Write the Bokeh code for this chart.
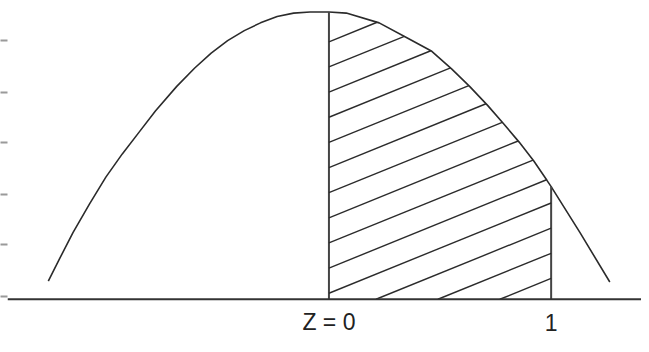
import numpy as np
from bokeh.plotting import figure
from bokeh.models import Range1d, LinearAxis, FixedTicker, Span, ColumnDataSource
from bokeh.core.properties import value
from bokeh.embed import file_html
from bokeh.resources import INLINE

# ---- data (Z units, relative height) ----
z_curve = [-1.263, -1.211, -1.152, -1.078, -1.004, -0.930, -0.856, -0.781, -0.685, -0.604,
           -0.530, -0.456, -0.381, -0.308, -0.233, -0.159, -0.085, 0.0,
           0.078, 0.226, 0.359, 0.463, 0.552, 0.633, 0.715, 0.789, 0.856, 0.922, 0.981,
           1.0, 1.13, 1.264]
h_curve = [0.063, 0.143, 0.232, 0.331, 0.425, 0.506, 0.580, 0.655, 0.741, 0.805,
           0.857, 0.900, 0.935, 0.962, 0.984, 0.996, 1.0, 1.0,
           0.996, 0.962, 0.907, 0.863, 0.802, 0.741, 0.674, 0.608, 0.547, 0.481, 0.414,
           0.392, 0.232, 0.060]
shade_from = 0.0
shade_to = 1.0
x_tick_values = [0, 1]
x_tick_labels = ["Z = 0", "1"]
y_tick_values = [0.010, 0.189, 0.365, 0.545, 0.721, 0.900]

# ---- hatch style ----
hatch_slope = 0.314
hatch_gap = 0.0875
hatch_offset = 0.021

INK = "#2b2b2b"

p = figure(width=641, height=336, output_backend="svg", toolbar_location=None,
           x_range=Range1d(-1.44667, 1.40667), y_range=Range1d(-39 / 301, 313 / 301),
           x_axis_type=None, y_axis_type=None, min_border=0)
p.outline_line_color = None
p.xgrid.visible = False
p.ygrid.visible = False
p.background_fill_color = "white"
p.border_fill_color = "white"

yax = LinearAxis(ticker=FixedTicker(ticks=y_tick_values), minor_tick_line_color=None)
yax.axis_line_color = None
yax.major_tick_in = 0
yax.major_tick_out = 7
yax.major_tick_line_color = "#9a9a9a"
yax.major_tick_line_width = 2
yax.major_label_overrides = {v: "" for v in y_tick_values}
yax.major_label_text_color = None
yax.major_label_standoff = 0
p.add_layout(yax, "left")

# baseline
p.add_layout(Span(location=0, dimension="width", line_color="#333333", line_width=2))

# curve
p.line(z_curve, h_curve, line_color=INK, line_width=1.6)

zc = np.array(z_curve)
hc = np.array(h_curve)
def curve_at(z):
    return float(np.interp(z, zc, hc))

# verticals at shade bounds
p.segment(x0=[shade_from, shade_to], y0=[0, 0], x1=[shade_from, shade_to],
          y1=[curve_at(shade_from), curve_at(shade_to)], line_color="#444444", line_width=2)

# hatch lines clipped to the shaded region
hx0, hy0, hx1, hy1 = [], [], [], []
for k in range(-4, 11):
    c = hatch_offset + k * hatch_gap
    zs = max(shade_from, -c / hatch_slope)
    if zs >= shade_to:
        continue
    hs = c + hatch_slope * zs
    if hs >= curve_at(zs):
        continue
    ze = shade_to
    if c + hatch_slope * ze > curve_at(ze):
        lo, hi = zs, ze
        for _ in range(60):
            mid = 0.5 * (lo + hi)
            if c + hatch_slope * mid > curve_at(mid):
                hi = mid
            else:
                lo = mid
        ze = lo
    hx0.append(zs); hy0.append(hs); hx1.append(ze); hy1.append(c + hatch_slope * ze)
p.segment(x0=hx0, y0=hy0, x1=hx1, y1=hy1, line_color=INK, line_width=1.4)

# labels under the baseline
src = ColumnDataSource(dict(x=x_tick_values, y=[-0.0798] * len(x_tick_values), t=x_tick_labels))
p.text(x="x", y="y", text="t", source=src, text_align="center", text_baseline="middle",
       text_font=value("Liberation Sans"), text_font_size="23px", text_color="#222222")

open("out.html", "w").write(file_html(p, INLINE))
